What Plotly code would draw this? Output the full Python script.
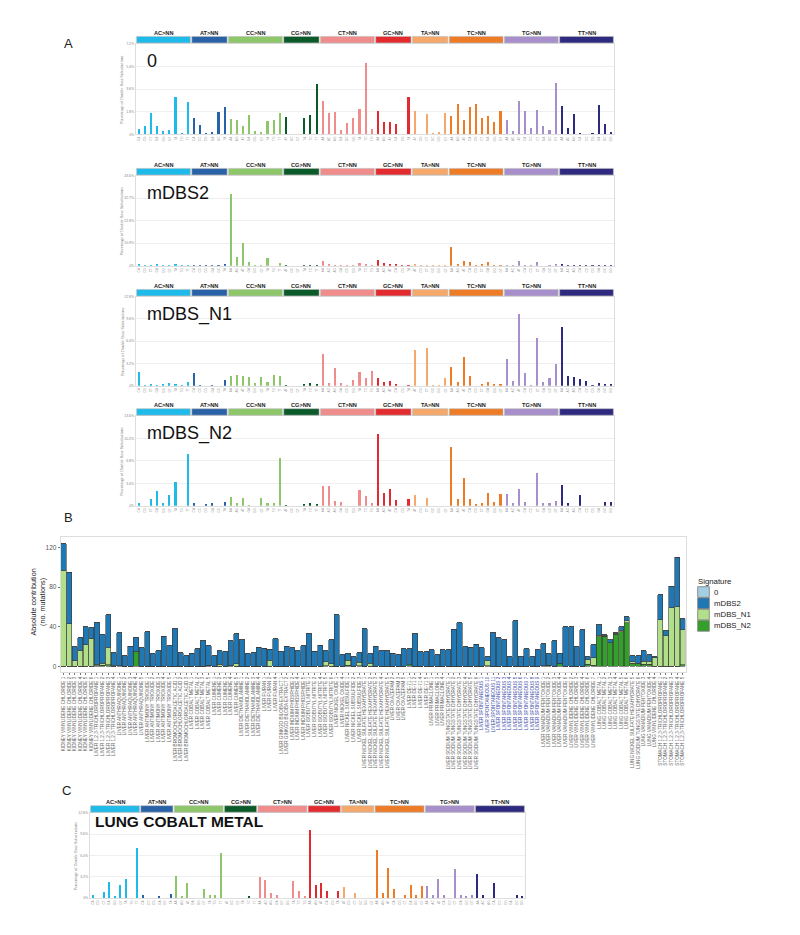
import plotly.graph_objects as go

# The page body adds an 8px offset; positions below are in page pixels.
OFF = 8
W, H = 800 - OFF, 935 - OFF
def px(x): return (x - OFF) / W
def py(y): return 1 - (y - OFF) / H

# ---------------- DBS78 channel definition ----------------
groups = ["AC>NN", "AT>NN", "CC>NN", "CG>NN", "CT>NN", "GC>NN", "TA>NN", "TC>NN", "TG>NN", "TT>NN"]
group_colors = ["#1ebbea", "#2a62a8", "#8dc76a", "#0b5a2a", "#f08c8c",
                "#e32b2f", "#f5a86a", "#ee7b26", "#a68fca", "#2e2a7f"]
group_channels = [
    ["CA", "CG", "CT", "GA", "GG", "GT", "TA", "TG", "TT"],
    ["CA", "CC", "CG", "GA", "GC", "TA"],
    ["AA", "AG", "AT", "GA", "GG", "GT", "TA", "TG", "TT"],
    ["AT", "GC", "GT", "TA", "TC", "TT"],
    ["AA", "AC", "AG", "GA", "GC", "GG", "TA", "TC", "TG"],
    ["AA", "AG", "AT", "CA", "CG", "TA"],
    ["AT", "CG", "CT", "GC", "GG", "GT"],
    ["AA", "AG", "AT", "CA", "CG", "CT", "GA", "GG", "GT"],
    ["AA", "AC", "AT", "CA", "CC", "CT", "GA", "GC", "GT"],
    ["AA", "AC", "AG", "CA", "CC", "CG", "GA", "GC", "GG"],
]

# ---------------- signature profiles (% of DBS) ----------------
sig_0 = [0.45, 0.63, 1.72, 0.63, 0.29, 0.34, 3.0, 0.05, 2.6,
         1.27, 0.77, 0.13, 0.19, 1.8, 2.2,
         1.19, 1.16, 0.66, 1.56, 0.26, 0.16, 1.06, 1.14, 1.72,
         1.35, 0.0, 0.0, 1.27, 1.5, 3.97,
         2.65, 1.67, 1.77, 0.34, 0.93, 1.27, 1.98, 5.63, 0.42,
         1.83, 1.0, 0.98, 0.79, 0.0, 3.0,
         1.83, 0.0, 1.6, 0.08, 0.19, 1.72,
         1.48, 2.38, 1.14, 2.17, 2.38, 1.3, 1.43, 0.98, 1.83,
         1.1, 0.24, 2.67, 1.88, 0.48, 1.9, 0.69, 0.34, 4.07,
         2.22, 0.48, 1.6, 0.1, 0.0, 0.1, 2.35, 0.79, 0.21]
sig_mDBS2 = [0.5, 0.2, 0.2, 0.6, 0.1, 0.1, 0.5, 0.1, 0.4,
             0.1, 0.1, 0.1, 0.1, 0.1, 0.6,
             34.6, 4.4, 10.8, 1.8, 0.3, 0.3, 3.6, 0.0, 1.1,
             0.1, 0.0, 0.0, 0.1, 0.2, 0.2,
             2.1, 0.6, 0.4, 0.2, 0.2, 0.1, 1.1, 0.8, 0.2,
             2.6, 1.1, 0.8, 0.6, 0.1, 0.1,
             0.6, 0.2, 0.1, 0.1, 0.1, 0.3,
             8.9, 0.5, 2.4, 1.9, 0.1, 0.8, 1.6, 0.2, 0.3,
             0.2, 0.1, 2.4, 0.2, 0.1, 1.6, 0.0, 0.2, 0.6,
             0.6, 0.2, 0.1, 0.1, 0.1, 0.1, 0.1, 0.1, 0.1]
sig_mDBS_N1 = [1.9, 0.05, 0.24, 0.1, 0.24, 0.43, 0.24, 0.14, 0.57,
               1.77, 0.1, 0.0, 0.14, 0.0, 0.77,
               1.34, 1.53, 1.44, 1.2, 0.33, 1.2, 0.53, 1.58, 1.34,
               0.1, 0.0, 0.0, 0.19, 0.43, 0.24,
               4.6, 0.43, 2.54, 0.33, 0.14, 0.86, 1.96, 1.05, 2.1,
               1.05, 0.57, 0.62, 0.24, 0.0, 0.1,
               5.1, 0.0, 5.36, 0.1, 0.1, 1.1,
               2.63, 0.57, 4.07, 1.44, 0.0, 0.19, 0.53, 0.24, 0.24,
               3.78, 0.72, 10.3, 1.87, 0.05, 6.84, 0.57, 1.05, 3.06,
               8.47, 1.34, 1.24, 0.9, 0.67, 0.14, 0.43, 0.19, 0.29]
sig_mDBS_N2 = [0.35, 0.0, 1.06, 2.2, 0.35, 1.67, 3.64, 0.0, 7.9,
               0.35, 0.0, 0.25, 0.4, 0.0, 0.55,
               1.3, 0.35, 1.1, 0.1, 0.0, 1.1, 0.35, 0.35, 7.27,
               0.1, 0.0, 0.0, 0.15, 0.45, 0.2,
               3.0, 3.0, 0.76, 0.5, 0.0, 0.0, 2.37, 1.5, 0.35,
               10.9, 1.97, 2.47, 0.9, 0.0, 1.0,
               1.67, 0.0, 1.16, 0.0, 0.0, 0.0,
               8.84, 0.96, 4.24, 0.96, 0.2, 0.4, 2.0, 0.5, 1.77,
               1.77, 0.35, 2.6, 0.5, 0.0, 4.95, 0.45, 0.4, 0.66,
               3.2, 0.35, 0.0, 1.6, 0.0, 0.0, 0.0, 0.5, 0.5]
lung_cobalt_metal = [0.5, 0.0, 0.9, 2.46, 0.3, 1.9, 2.9, 0.0, 7.6,
                     0.4, 0.0, 0.0, 0.3, 0.0, 0.55,
                     3.27, 0.25, 2.3, 0.0, 0.0, 1.36, 0.4, 0.4, 6.8,
                     0.0, 0.0, 0.0, 0.0, 0.3, 0.0,
                     3.2, 2.76, 0.7, 0.4, 0.0, 0.0, 2.5, 1.0, 0.3,
                     10.3, 1.9, 2.3, 1.0, 0.0, 1.0,
                     1.7, 0.0, 0.8, 0.0, 0.0, 0.0,
                     7.2, 0.8, 4.5, 1.4, 0.0, 0.45, 1.9, 0.4, 1.76,
                     1.76, 0.4, 2.86, 0.5, 0.0, 4.3, 0.5, 0.3, 0.5,
                     3.57, 0.4, 0.0, 2.2, 0.0, 0.0, 0.0, 0.4, 0.3]

# y-axis maxima (tick step = max/4)
ymax_0, ymax_mDBS2, ymax_N1, ymax_N2, ymax_C = 7.2, 43.6, 12.8, 13.6, 12.8

# ---------------- panel B: sample contributions ----------------
sample_groups = [
    ("KIDNEY VINYLIDENE CHLORIDE", ["1", "2", "3", "4", "5", "6"]),
    ("LIVER 1,2,3-TRICHLOROPROPANE", ["1", "2", "3", "4"]),
    ("LIVER ANTHRAQUINONE", ["1", "2", "3", "4", "5"]),
    ("LIVER ANTIMONY TRIOXIDE", ["1", "2", "3", "4", "5"]),
    ("LIVER BROMOCHLOROACETIC ACID", ["1", "2", "3"]),
    ("LIVER COBALT METAL", ["1", "2", "3", "5"]),
    ("LIVER CUMENE", ["1", "2", "3", "4", "5"]),
    ("LIVER DIETHANOLAMINE", ["1", "2", "3", "4"]),
    ("LIVER FURAN", ["1", "2", "4"]),
    ("LIVER GINKGO BILOBA EXTRACT", ["1", "2"]),
    ("LIVER INDIUM PHOSPHIDE", ["2", "4", "5"]),
    ("LIVER ISOBUTYL NITRITE", ["1", "2", "4", "5", "6"]),
    ("LIVER NICKEL OXIDE", ["1", "4"]),
    ("LIVER NICKEL SUBSULFIDE", ["1", "2", "3"]),
    ("LIVER NICKEL SULFATE HEXAHYDRATE", ["1", "2", "3", "4", "5"]),
    ("LIVER OXAZEPAM", ["2", "3", "5"]),
    ("LIVER DE-71", ["1", "2", "4", "5"]),
    ("LIVER PRIMACLONE", ["1", "3", "4"]),
    ("LIVER SODIUM TUNGSTATE DIHYDRATE", ["1", "2", "3", "4", "5", "6"]),
    ("LIVER SPONTANEOUS", ["1", "10", "11", "2", "3", "4", "5", "6", "7", "8", "9"]),
    ("LIVER VANADIUM PENTOXIDE", ["1", "2", "3", "4", "6"]),
    ("LIVER VINYLIDENE CHLORIDE", ["2", "3", "4", "6", "7"]),
    ("LUNG COBALT METAL", ["1", "2", "3", "4", "5", "6"]),
    ("LUNG NICKEL SULFATE HEXAHYDRATE", ["5"]),
    ("LUNG SODIUM TUNGSTATE DIHYDRATE", ["6"]),
    ("LUNG VANADIUM PENTOXIDE", ["3", "4"]),
    ("LUNG VINYLIDENE CHLORIDE", ["4"]),
    ("STOMACH 1,2,3-TRICHLOROPROPANE", ["1", "2", "3", "4", "5"]),
]
highlight_group = "LIVER SPONTANEOUS"

contrib_0 = [0] * 98 + [0.5] + [0] * 13
contrib_mDBS2 = [27, 52, 14.1, 13, 18.5, 10.7, 42.5, 28.6, 33, 12.5,
                 33.2, 10.4, 20, 14, 18.5, 34.7, 12.8, 15.8, 30.3, 20.5,
                 38, 13.5, 10.8, 13.1, 17.8, 25.6, 19.5, 10.8, 13.8, 14.8,
                 24.6, 30.2, 27, 12.8, 13.5, 19.2, 18.2, 11.2, 28, 14.5,
                 20, 18.9, 15.8, 20.5, 32.7, 15, 21, 11.3, 24.5, 52,
                 11.8, 6.3, 9.8, 9.8, 38, 9.5, 20, 15.8, 15.8, 13.1,
                 11.8, 17.8, 16.3, 33, 14.5, 14.5, 16.8, 11.8, 16.8, 16.8,
                 37.4, 43.8, 19.9, 19.2, 22.2, 18.9, 4, 33.7, 29, 27,
                 9.8, 46, 9.8, 17.8, 9.8, 16.8, 22.4, 11.8, 25.6, 9.8,
                 39.7, 39.7, 19.9, 37, 3.3, 13.4, 10.2, 0.7, 3.1, 0.7,
                 3.3, 4, 6.1, 7.6, 10.8, 6.8, 1.1, 25.4, 5, 21.8,
                 50, 11]
contrib_mDBS_N1 = [97, 43, 5.4, 16, 21.5, 28, 1, 2, 17.5, 1,
                   0, 0, 0, 0.5, 0, 0, 0, 0, 0, 0,
                   0, 0, 0, 0, 0, 0, 0, 0, 2, 0,
                   0.5, 2.5, 0, 0, 0, 0, 0, 6, 0, 0,
                   0, 0, 0, 0, 0, 0, 0, 4, 2.5, 0,
                   0, 5, 0, 3.5, 0, 3, 0, 0, 0, 0,
                   0, 0, 0, 0, 0, 0, 0, 0, 0, 0,
                   0, 0, 0, 0, 0, 0, 5.5, 0, 0, 0,
                   0, 0, 0, 0, 0, 0, 0, 0, 0, 0,
                   0, 0, 0, 0, 4.5, 7.7, 1.5, 1, 0, 1,
                   1.4, 1.8, 1.7, 0.5, 3, 3, 8.7, 47, 31, 59,
                   60, 35.5]
contrib_mDBS_N2 = [0, 0, 0, 0, 0, 0, 0.5, 1, 1.5, 0,
                   0.5, 0, 0, 14.5, 0, 0, 0, 0, 0, 0,
                   0, 0, 0, 0, 0, 0, 1, 0, 0, 0,
                   0.5, 0, 0, 0, 0, 0, 0, 0, 0, 0,
                   0, 0, 0, 0, 0, 0, 0, 0.5, 0, 0,
                   0, 1.2, 0, 0.5, 0, 0, 0, 0, 0, 0,
                   0, 0, 1.5, 0, 0, 0, 0, 0, 0, 0,
                   0, 0, 0, 0, 0, 0, 0.3, 0, 0, 0,
                   0, 0, 0, 0, 0, 0, 0.5, 1, 0, 3,
                   0, 0, 0, 0, 2, 0.8, 30, 30.3, 23.9, 32.3,
                   35, 44, 3, 2.7, 2, 2, 0, 0, 0, 0,
                   0, 1.5]

sig_names = ["0", "mDBS2", "mDBS_N1", "mDBS_N2"]
sig_colors = ["#a6cee3", "#1f78b4", "#b2df8a", "#33a02c"]

# ---------------- build figure ----------------
channels = []
channel_short = []
bar_colors = []
for g, chs, col in zip(groups, group_channels, group_colors):
    for c in chs:
        channels.append(g[:2] + ">" + c)
        channel_short.append(c)
        bar_colors.append(col)

fig = go.Figure()

dbs_panels = [
    # (values, ymax, title, x0px, x1px, top px, bottom px, title style)
    (sig_0, ymax_0, "0", 135.9, 614.1, 43.7, 134.3, "plain"),
    (sig_mDBS2, ymax_mDBS2, "mDBS2", 135.9, 614.1, 175.7, 265.7, "plain"),
    (sig_mDBS_N1, ymax_N1, "mDBS_N1", 135.9, 614.1, 296.7, 385.7, "plain"),
    (sig_mDBS_N2, ymax_N2, "mDBS_N2", 135.9, 614.1, 416.0, 505.7, "plain"),
    (lung_cobalt_metal, ymax_C, "LUNG COBALT METAL", 89.9, 525.1, 813.0, 898.0, "bold"),
]

layout = dict(
    width=W, height=H, margin=dict(l=0, r=0, t=0, b=0),
    paper_bgcolor="white", plot_bgcolor="white",
    barmode="stack", showlegend=False,
    font=dict(family="Arial", color="#333333"),
)
shapes = []
annotations = []

axis_ids = [1, 2, 3, 4, 6]
for (vals, ymax, title, x0, x1, top, bot, style), k in zip(dbs_panels, axis_ids):
    xa = "x" if k == 1 else f"x{k}"
    ya = "y" if k == 1 else f"y{k}"
    fig.add_trace(go.Bar(x=channels, y=vals, marker=dict(color=bar_colors, line=dict(width=0)),
                         width=0.28, xaxis=xa, yaxis=ya, showlegend=False, hoverinfo="x+y"))
    step = ymax / 4
    tv = [step * i for i in range(5)]
    tt = ["0%"] + [f"{v:.1f}%" for v in tv[1:]]
    layout["xaxis" if k == 1 else f"xaxis{k}"] = dict(
        domain=[px(x0), px(x1)], anchor=ya, type="category",
        categoryorder="array", categoryarray=channels,
        range=[-0.5, len(channels) - 0.5],
        tickvals=channels, ticktext=channel_short, tickangle=-90,
        tickfont=dict(size=3.2, color="#999999"), ticks="",
        showline=True, linecolor="#dddddd", linewidth=1, mirror=True,
        showgrid=False, zeroline=False, automargin=False, fixedrange=True,
    )
    layout["yaxis" if k == 1 else f"yaxis{k}"] = dict(
        domain=[py(bot), py(top)], anchor=xa, range=[0, ymax],
        tickvals=tv, ticktext=tt, tickfont=dict(size=3.5, color="#888888"),
        ticks="", showgrid=True, gridcolor="#efefef", gridwidth=1,
        showline=True, linecolor="#dddddd", linewidth=1, mirror=True,
        zeroline=False, automargin=False, fixedrange=True,
    )
    # category header strips
    start = 0
    for g, chs, col in zip(groups, group_channels, group_colors):
        end = start + len(chs) - 1
        shapes.append(dict(type="rect", xref=xa, yref="paper",
                           x0=start - 0.38, x1=end + 0.38,
                           y0=py(top - 0.8), y1=py(top - 7.3),
                           fillcolor=col, line=dict(width=0.6, color="#bbbbbb")))
        annotations.append(dict(x=(start + end) / 2, y=py(top - 10.8), xref=xa, yref="paper",
                                text=f"<b>{g.replace('>', '&gt;')}</b>", showarrow=False,
                                xanchor="center", yanchor="middle",
                                font=dict(size=5.6, color="#222222", family="Arial")))
        start = end + 1
    # panel title
    if style == "bold":
        annotations.append(dict(x=px(x0 + 3), y=py(top + 8.5), xref="paper", yref="paper",
                                text=f"<b>{title}</b>", showarrow=False, xanchor="left",
                                yanchor="middle", font=dict(size=15.5, color="#111111", family="Arial")))
    else:
        annotations.append(dict(x=px(x0 + 9), y=py(top + 17.5), xref="paper", yref="paper",
                                text=title, showarrow=False, xanchor="left", yanchor="middle",
                                font=dict(size=18, color="#111111", family="Arial")))
    # y-axis title
    annotations.append(dict(x=px(x0 - 14), y=py((top + bot) / 2), xref="paper", yref="paper",
                            text="Percentage of Double Base Substitutions", textangle=-90,
                            showarrow=False, xanchor="center", yanchor="middle",
                            font=dict(size=4.2, color="#777777", family="Liberation Serif")))

# ---- panel B ----
sample_labels = []
sample_ticktext = []
for name, reps in sample_groups:
    for r in reps:
        lab = f"{name} {r}"
        sample_labels.append(lab)
        if name == highlight_group:
            sample_ticktext.append(f"<span style='color:#3b4ba8'>{lab}</span>")
        else:
            sample_ticktext.append(lab)

contribs = [contrib_0, contrib_mDBS2, contrib_mDBS_N1, contrib_mDBS_N2]
# stack bottom-to-top: mDBS_N2, mDBS_N1, mDBS2, 0
for idx in [3, 2, 1, 0]:
    fig.add_trace(go.Bar(x=sample_labels, y=contribs[idx], name=sig_names[idx],
                         marker=dict(color=sig_colors[idx], line=dict(width=0.6, color="#3a3a3a")),
                         width=0.92, xaxis="x5", yaxis="y5", showlegend=False))

B_x0, B_x1, B_top, B_bot = 60.7, 685.5, 537.3, 672.4
layout["xaxis5"] = dict(
    domain=[px(B_x0), px(B_x1)], anchor="y5", type="category",
    categoryorder="array", categoryarray=sample_labels,
    range=[-0.5, len(sample_labels) - 0.5],
    tickvals=sample_labels, ticktext=sample_ticktext, tickangle=-90,
    tickfont=dict(size=4.6, color="#666666"), ticks="outside", ticklen=1.5,
    tickcolor="#777777", tickwidth=0.5,
    showline=True, linecolor="#dddddd", linewidth=1, mirror=True,
    showgrid=False, zeroline=False, automargin=False, fixedrange=True,
)
layout["yaxis5"] = dict(
    domain=[py(B_bot), py(B_top)], anchor="x5", range=[-6.2, 130.3],
    tickvals=[0, 40, 80, 120], tickfont=dict(size=6.5, color="#555555"),
    ticks="outside", ticklen=2, tickcolor="#777777",
    showline=True, linecolor="#dddddd", linewidth=1, mirror=True,
    showgrid=False, zeroline=False, automargin=False, fixedrange=True,
)
annotations.append(dict(x=px(37.5), y=py(602), xref="paper", yref="paper",
                        text="Absolute contribution<br>(no. mutations)", textangle=-90,
                        showarrow=False, xanchor="center", yanchor="middle",
                        font=dict(size=7.2, color="#222222", family="Arial")))

# legend for panel B (drawn as keys + labels)
annotations.append(dict(x=px(696), y=py(581.5), xref="paper", yref="paper", text="Signature",
                        showarrow=False, xanchor="left", yanchor="middle",
                        font=dict(size=7.8, color="#222222")))
row_h = 11.3
for j, (nm, col) in enumerate(zip(sig_names, sig_colors)):
    yc = 592 + j * row_h
    shapes.append(dict(type="rect", xref="paper", yref="paper",
                       x0=px(697.7), x1=px(709.3), y0=py(yc + 5.3), y1=py(yc - 5.3),
                       fillcolor=col, line=dict(width=0.8, color="#777777")))
    annotations.append(dict(x=px(712), y=py(yc), xref="paper", yref="paper", text=nm,
                            showarrow=False, xanchor="left", yanchor="middle",
                            font=dict(size=7.8, color="#222222")))

# panel letters
for letter, (lx, ly) in {"A": (62, 44), "B": (62, 517), "C": (60, 790)}.items():
    annotations.append(dict(x=px(lx), y=py(ly), xref="paper", yref="paper", text=letter,
                            showarrow=False, xanchor="left", yanchor="middle",
                            font=dict(size=13, color="#222222", family="Arial")))

layout["shapes"] = shapes
layout["annotations"] = annotations
fig.update_layout(**layout)
fig.write_html("out.html")
